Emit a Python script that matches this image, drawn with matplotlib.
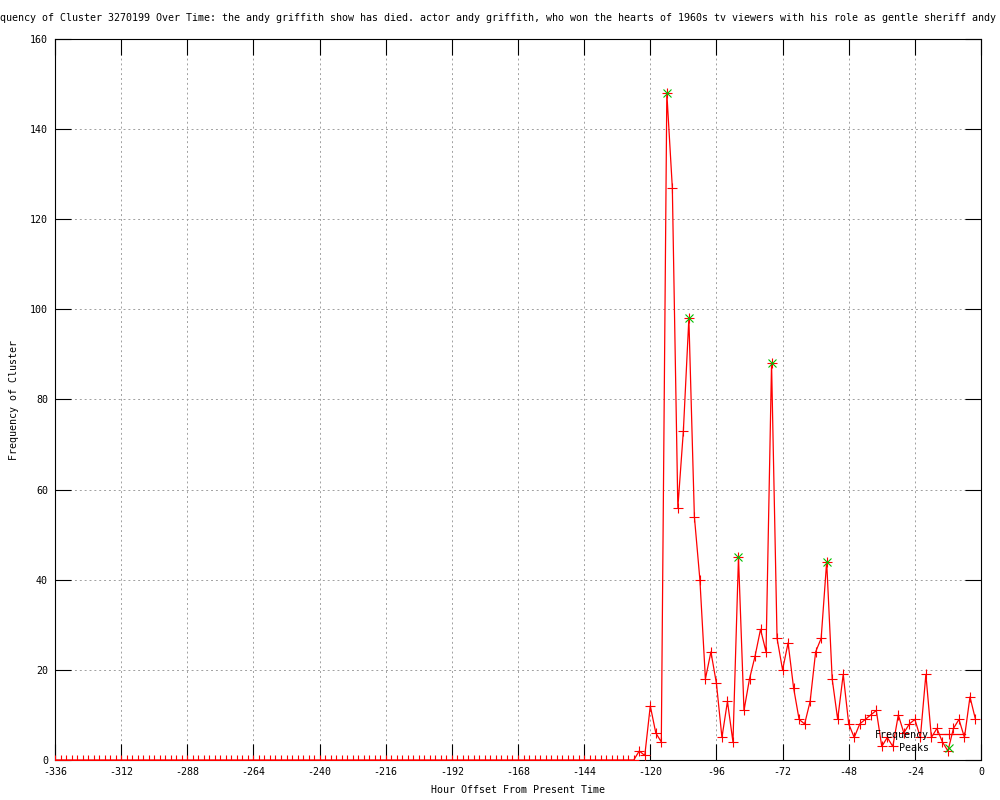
import matplotlib
matplotlib.use("Agg")
import matplotlib.pyplot as plt

# hour offsets, one sample every 2 hours
hours = list(range(-336, 0, 2))

# -336 .. -126: nothing
quiet_counts = [
    0, 0, 0, 0, 0, 0, 0, 0, 0, 0, 0, 0, 0, 0, 0, 0, 0, 0, 0, 0,
    0, 0, 0, 0, 0, 0, 0, 0, 0, 0, 0, 0, 0, 0, 0, 0, 0, 0, 0, 0,
    0, 0, 0, 0, 0, 0, 0, 0, 0, 0, 0, 0, 0, 0, 0, 0, 0, 0, 0, 0,
    0, 0, 0, 0, 0, 0, 0, 0, 0, 0, 0, 0, 0, 0, 0, 0, 0, 0, 0, 0,
    0, 0, 0, 0, 0, 0, 0, 0, 0, 0, 0, 0, 0, 0, 0, 0, 0, 0, 0, 0,
    0, 0, 0, 0, 0, 0,
]
# -124 .. -2
active_counts = [
    2, 1, 12, 6, 4, 148, 127, 56, 73, 98,
    54, 40, 18, 24, 17, 5, 13, 4, 45, 11,
    18, 23, 29, 24, 88, 27, 20, 26, 16, 9,
    8, 13, 24, 27, 44, 18, 9, 19, 8, 5,
    8, 9, 10, 11, 3, 5, 3, 10, 6, 8,
    9, 5, 19, 5, 7, 4, 2, 7, 9, 5,
    14, 9,
]
frequency = quiet_counts + active_counts

peak_hours = [-114, -106, -88, -76, -56]
peak_values = [148, 98, 45, 88, 44]

title = ("Frequency of Cluster 3270199 Over Time: the andy griffith show has died. "
         "actor andy griffith, who won the hearts of 1960s tv viewers with his role "
         "as gentle sheriff andy")

FONT = "DejaVu Sans Mono"
FS = 7.2
plt.rcParams["font.family"] = FONT
plt.rcParams["font.size"] = FS
plt.rcParams["axes.unicode_minus"] = False

fig = plt.figure(figsize=(10, 8), dpi=100)
ax = fig.add_axes([0.055, 0.05, 0.926, 0.90125])

ax.plot(hours, frequency, color="#ff0000", lw=0.9, marker="+", ms=6.5,
        mew=0.8, label="Frequency", zorder=3)
ax.plot(peak_hours, peak_values, ls="none", color="#00c000", marker="x",
        ms=5.5, mew=0.8, label="Peaks", zorder=4)

ax.set_xlim(-336, 0)
ax.set_ylim(0, 160)
ax.set_xticks(range(-336, 1, 24))
ax.set_yticks(range(0, 161, 20))
ax.tick_params(direction="in", length=11.5, width=0.8, top=True, right=True,
               labelsize=FS, pad=5)
ax.grid(True, color="#a0a0a0", lw=0.7, ls=(0, (2, 3)))
ax.set_axisbelow(True)
for s in ax.spines.values():
    s.set_linewidth(0.8)

ax.set_xlabel("Hour Offset From Present Time", fontsize=FS, labelpad=6)
ax.set_ylabel("Frequency of Cluster", fontsize=FS, labelpad=8)

fig.text(0.489, 0.977, title, ha="center", va="center", fontsize=FS)

ax.legend(loc="lower right", bbox_to_anchor=(0.99, 0.0), frameon=False,
          markerfirst=False, handlelength=3.2, labelspacing=0.35,
          handletextpad=0.4, fontsize=FS, borderaxespad=0.3)

fig.savefig("out.png", dpi=100)
